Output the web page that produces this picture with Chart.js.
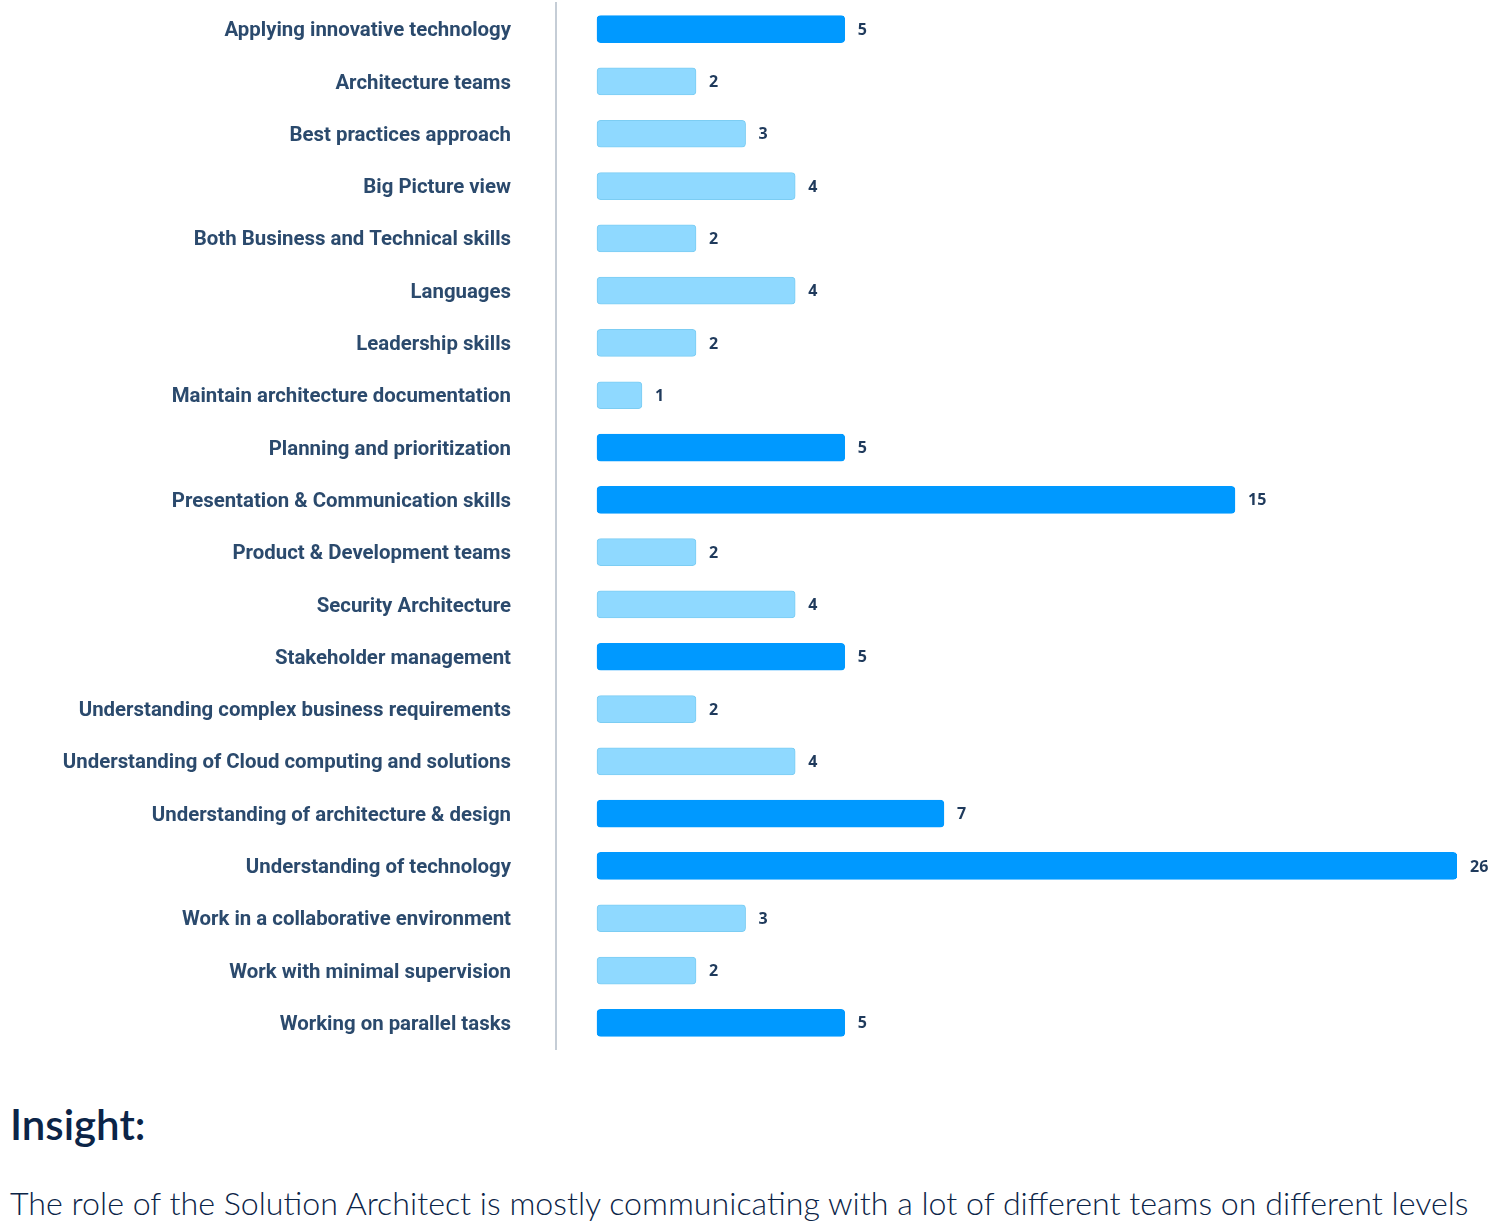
<!DOCTYPE html>
<html>
<head>
<meta charset="utf-8">
<script src="https://cdn.jsdelivr.net/npm/chart.js@4.4.1/dist/chart.umd.min.js"></script>
<style>
  html, body { margin: 0; padding: 0; background: #ffffff; }
  #wrap { position: relative; width: 1490px; height: 1223px; overflow: hidden; }
  #chartBox { position: absolute; left: 0; top: 0; width: 1490px; height: 1052px; }
  #insight { position: absolute; left: 10px; top: 1100px; margin: 0; font-family: Lato, sans-serif; font-weight: 600; font-size: 42px; line-height: 48px; color: #0b2447; }
  #note { position: absolute; left: 10px; top: 1187px; margin: 0; font-family: Lato, sans-serif; font-weight: 300; font-size: 32.2px; line-height: 32px; color: #0b2447; white-space: nowrap; }
</style>
</head>
<body>
<div id="wrap">
  <div id="chartBox"><canvas id="c" width="1490" height="1052"></canvas></div>
  <h2 id="insight">Insight:</h2>
  <p id="note">The role of the Solution Architect is mostly communicating with a lot of different teams on different levels</p>
</div>
<script>
const categories = [
  "Applying innovative technology",
  "Architecture teams",
  "Best practices approach",
  "Big Picture view",
  "Both Business and Technical skills",
  "Languages",
  "Leadership skills",
  "Maintain architecture documentation",
  "Planning and prioritization",
  "Presentation & Communication skills",
  "Product & Development teams",
  "Security Architecture",
  "Stakeholder management",
  "Understanding complex business requirements",
  "Understanding of Cloud computing and solutions",
  "Understanding of architecture & design",
  "Understanding of technology",
  "Work in a collaborative environment",
  "Work with minimal supervision",
  "Working on parallel tasks"
];
const counts = [5, 2, 3, 4, 2, 4, 2, 1, 5, 15, 2, 4, 5, 2, 4, 7, 26, 3, 2, 5];
const highlightThreshold = 5;

// Non-linear display scale of the reference: [value, fraction of axis length]
const scaleKnots = [[0, 0.0455], [1, 0.0954], [2, 0.1554], [7, 0.4306], [15, 0.7536], [26, 1]];

function valueToFraction(v) {
  const k = scaleKnots;
  if (v <= k[0][0]) return k[0][1];
  for (let i = 1; i < k.length; i++) {
    if (v <= k[i][0]) {
      const t = (v - k[i-1][0]) / (k[i][0] - k[i-1][0]);
      return k[i-1][1] + t * (k[i][1] - k[i-1][1]);
    }
  }
  return k[k.length-1][1];
}
function fractionToValue(f) {
  const k = scaleKnots;
  for (let i = 1; i < k.length; i++) {
    if (f <= k[i][1]) {
      const t = (f - k[i-1][1]) / (k[i][1] - k[i-1][1]);
      return k[i-1][0] + t * (k[i][0] - k[i-1][0]);
    }
  }
  return k[k.length-1][0];
}

class PiecewiseScale extends Chart.LinearScale {
  getPixelForValue(value) {
    return this.getPixelForDecimal(valueToFraction(value));
  }
  getValueForPixel(pixel) {
    return fractionToValue(this.getDecimalForPixel(pixel));
  }
}
PiecewiseScale.id = 'piecewise';
PiecewiseScale.defaults = Chart.LinearScale.defaults;
Chart.register(PiecewiseScale);

const DARK = '#0099ff';
const LIGHT = '#8fd9ff';

const valueLabels = {
  id: 'valueLabels',
  afterDatasetsDraw(chart) {
    const ctx = chart.ctx;
    const meta = chart.getDatasetMeta(0);
    ctx.save();
    ctx.font = '700 16px "Open Sans", sans-serif';
    ctx.fillStyle = '#1f3a5c';
    ctx.textBaseline = 'middle';
    ctx.textAlign = 'left';
    meta.data.forEach((bar, i) => {
      ctx.fillText(String(counts[i]), bar.x + 13, bar.y + 1);
    });
    ctx.restore();
  }
};

new Chart(document.getElementById('c'), {
  type: 'bar',
  data: {
    labels: categories,
    datasets: [{
      data: counts,
      backgroundColor: counts.map(v => v >= highlightThreshold ? DARK : LIGHT),
      borderColor: counts.map(v => v >= highlightThreshold ? DARK : '#7ccdf3'),
      borderWidth: 1,
      borderSkipped: false,
      borderRadius: 4,
      barThickness: 27
    }]
  },
  options: {
    indexAxis: 'y',
    responsive: false,
    animation: false,
    devicePixelRatio: 1,
    layout: { padding: { top: 3, bottom: 3, right: 33, left: 0 } },
    plugins: { legend: { display: false }, tooltip: { enabled: false } },
    scales: {
      x: {
        type: 'piecewise',
        min: 0,
        max: Math.max(...counts),
        display: false
      },
      y: {
        type: 'category',
        grid: { display: false, drawTicks: false },
        border: { display: true, color: '#c5cdd6', width: 2 },
        ticks: {
          padding: 45,
          labelOffset: 2,
          color: '#2b4a6d',
          font: { family: 'Roboto', weight: '700', size: 20.4 }
        },
        afterFit(scale) {
          scale.width = 556;
          scale.paddingTop = 0;
          scale.paddingBottom = 0;
        }
      }
    }
  },
  plugins: [valueLabels]
});
</script>
</body>
</html>
